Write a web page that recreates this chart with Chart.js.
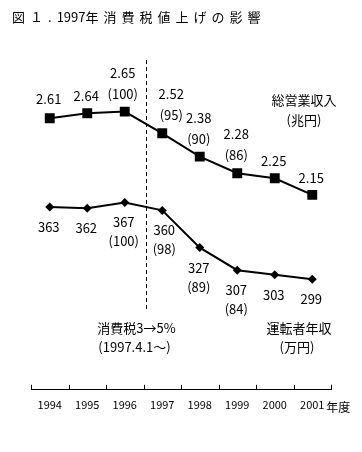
<!DOCTYPE html>
<html>
<head>
<meta charset="utf-8">
<script src="https://cdn.jsdelivr.net/npm/chart.js@4.4.1/dist/chart.umd.min.js"></script>
<style>
body{margin:0;background:#fff;}
#wrap{position:relative;width:362px;height:452px;}
#title{position:absolute;left:12px;top:9px;font:13px 'Noto Sans CJK JP';line-height:16px;color:#000;white-space:nowrap;}
#title .sp{letter-spacing:5px;}
</style>
</head>
<body>
<div id="wrap">
<canvas id="myChart" width="362" height="452"></canvas>
<div id="title"><span class="sp">図１.</span>1997<span class="sp">年消費税値上げの影響</span></div>
</div>
<script>
'use strict';
let years = ['1994', '1995', '1996', '1997', '1998', '1999', '2000', '2001'];
let revenue = [2.61, 2.64, 2.65, 2.52, 2.38, 2.28, 2.25, 2.15];
let revenueIndex = [null, null, 100, 95, 90, 86, null, null];
let income = [363, 362, 367, 360, 327, 307, 303, 299];
let incomeIndex = [null, null, 100, 98, 89, 84, null, null];

let fontName = '"Noto Sans CJK JP"';
Chart.defaults.font.family = fontName;
Chart.defaults.color = '#000';

// labels next to the points + the tax line and notes
let extras = {
    id: 'extras',
    afterDatasetsDraw(chart) {
        let ctx = chart.ctx;
        let area = chart.chartArea;
        let x = chart.scales.x;
        let step = x.getPixelForValue(1) - x.getPixelForValue(0);
        ctx.save();

        // inward tick marks on the x axis
        ctx.strokeStyle = '#000';
        ctx.lineWidth = 1;
        for (let i = 0; i <= years.length; i++) {
            let px = Math.round(x.getPixelForValue(0) - step / 2 + i * step) + 0.5;
            ctx.beginPath();
            ctx.moveTo(px, area.bottom);
            ctx.lineTo(px, area.bottom - 5);
            ctx.stroke();
        }

        // tax hike line
        let taxX = Math.round(x.getPixelForValue(2.575)) + 0.5;
        ctx.setLineDash([4, 3]);
        ctx.beginPath();
        ctx.moveTo(taxX, area.top + 20);
        ctx.lineTo(taxX, area.bottom - 78);
        ctx.stroke();
        ctx.setLineDash([]);

        ctx.fillStyle = '#000';
        ctx.textAlign = 'center';
        ctx.textBaseline = 'middle';
        ctx.font = '13px ' + fontName;

        let m0 = chart.getDatasetMeta(0).data;
        let m1 = chart.getDatasetMeta(1).data;
        for (let i = 0; i < years.length; i++) {
            let p = m0[i];
            let dx = i === 3 ? 9 : (i === 2 ? -2 : -1);
            if (revenueIndex[i] !== null) {
                ctx.fillText(revenue[i].toFixed(2), p.x + dx, p.y - 39);
                ctx.fillText('(' + revenueIndex[i] + ')', p.x + dx, p.y - 18);
            } else {
                ctx.fillText(revenue[i].toFixed(2), p.x + dx, p.y - (i === 0 ? 19 : 17));
            }
            let q = m1[i];
            let dq = i === 3 ? 2 : -1;
            ctx.fillText(String(income[i]), q.x + dq, q.y + 20);
            if (incomeIndex[i] !== null) {
                ctx.fillText('(' + incomeIndex[i] + ')', q.x + dq, q.y + 39);
            }
        }

        // notes
        ctx.fillText('総営業収入', area.right - 27, area.top + 60);
        ctx.fillText('(兆円)', area.right - 27, area.top + 80);
        ctx.fillText('運転者年収', area.right - 32, area.bottom - 62);
        ctx.fillText('(万円)', area.right - 34, area.bottom - 43);
        ctx.fillText('消費税3→5%', taxX - 10, area.bottom - 62);
        ctx.fillText('(1997.4.1～)', taxX - 12, area.bottom - 43);

        // unit after the last year
        ctx.textAlign = 'left';
        ctx.font = '12px ' + fontName;
        ctx.fillText('年度', x.getPixelForValue(years.length - 1) + 14, area.bottom + 18);
        ctx.restore();
    }
};

let ctx = document.getElementById('myChart').getContext('2d');
let chart = new Chart(ctx, {
    type: 'line',
    data: {
        labels: years,
        datasets: [{
            label: '総営業収入',
            data: revenue,
            yAxisID: 'y',
            borderColor: '#000',
            borderWidth: 2,
            pointStyle: 'rect',
            pointRadius: 7,
            pointBorderWidth: 0,
            pointBackgroundColor: '#000',
            tension: 0
        }, {
            label: '運転者年収',
            data: income,
            yAxisID: 'y2',
            borderColor: '#000',
            borderWidth: 2,
            pointStyle: 'rectRot',
            pointRadius: 4.5,
            pointBorderWidth: 0,
            pointBackgroundColor: '#000',
            tension: 0
        }]
    },
    options: {
        responsive: false,
        animation: false,
        devicePixelRatio: 1,
        layout: { padding: { left: 31, right: 31, top: 40, bottom: 33 } },
        plugins: { legend: { display: false }, tooltip: { enabled: false } },
        scales: {
            x: {
                offset: true,
                grid: { display: false, drawTicks: false },
                border: { display: true, color: '#000', width: 1 },
                ticks: { padding: 8, font: { size: 11 }, color: '#000' }
            },
            y: { display: false, min: 0.98, max: 3.08 },
            y2: { display: false, min: 201, max: 511 }
        }
    },
    plugins: [extras]
});
</script>
</body>
</html>
